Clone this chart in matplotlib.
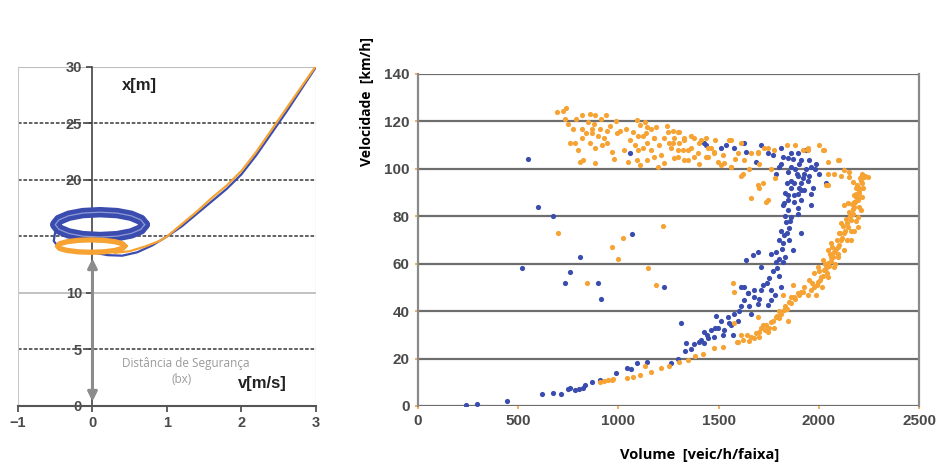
import matplotlib
matplotlib.use("Agg")
import matplotlib.pyplot as plt

# --- left panel: x [m] versus v [m/s] ---
blue_curve_v = [-0.50, -0.52, -0.45, -0.25, 0.0, 0.2, 0.4, 0.6, 0.8, 1.0, 1.2, 1.4, 1.6,
                1.8, 2.0, 2.2, 2.4, 2.6, 2.8, 3.0]
blue_curve_x = [15.4, 14.6, 14.0, 13.75, 13.6, 13.35, 13.3, 13.6, 14.2, 15.0, 15.9, 17.0,
                18.1, 19.2, 20.5, 22.2, 24.1, 26.0, 28.0, 30.0]

orange_curve_v = [0.3, 0.5, 0.7, 0.9, 1.0, 1.2, 1.4, 1.6, 1.8, 2.0, 2.2, 2.4, 2.6, 2.8, 3.0]
orange_curve_x = [13.55, 13.7, 14.1, 14.6, 15.0, 16.1, 17.2, 18.4, 19.5, 20.8, 22.5, 24.4,
                  26.3, 28.2, 30.1]

blue_loop_v = [0.70, 0.65, 0.52, 0.33, 0.10, -0.13, -0.32, -0.45, -0.50, -0.45, -0.32,
               -0.13, 0.10, 0.33, 0.52, 0.65, 0.70]
blue_loop_x = [16.05, 16.47, 16.83, 17.07, 17.15, 17.07, 16.83, 16.47, 16.05, 15.63, 15.27,
               15.03, 14.95, 15.03, 15.27, 15.63, 16.05]

orange_loop_v = [0.43, 0.40, 0.30, 0.15, -0.02, -0.19, -0.34, -0.44, -0.47, -0.44, -0.34,
                 -0.19, -0.02, 0.15, 0.30, 0.40, 0.43]
orange_loop_x = [14.15, 14.36, 14.54, 14.66, 14.70, 14.66, 14.54, 14.36, 14.15, 13.94, 13.76,
                 13.64, 13.60, 13.64, 13.76, 13.94, 14.15]

safety_gap = 13.3

# --- right panel: (volume, speed) observations ---
blue_points = [
    # scattered low-volume readings
    (550, 104), (600, 84), (675, 80), (1060, 106.5), (1070, 72.4), (810, 63), (520, 58),
    (760, 56.6), (735, 52), (900, 52), (915, 45),
    # congested branch
    (240, 0.3), (295, 0.8), (445, 2), (620, 5), (675, 5.5), (715, 5), (750, 7), (760, 7.5),
    (785, 6.7), (805, 7), (825, 7.5), (835, 9), (870, 10), (910, 11), (990, 14),
    (1045, 16), (1065, 15.5), (1095, 18), (1145, 18.5), (1260, 18), (1295, 20), (1310, 35),
    (1225, 50), (1335, 26.5), (1375, 26), (1410, 28), (1425, 31), (1460, 32), (1475, 29),
    (1495, 33), (1510, 36), (1525, 32), (1545, 37.5), (1560, 34), (1575, 39), (1595, 36),
    (1610, 42), (1625, 44.6), (1645, 47.5), (1660, 39), (1675, 46), (1695, 43), (1710, 49),
    (1745, 42.5), (1760, 44.6), (1625, 50), (1485, 38), (1445, 28.6), (1425, 26.5),
    (1570, 30), (1780, 47), (1700, 45), (1650, 42), (1600, 40), (1550, 35), (1520, 30),
    (1480, 33), (1440, 30), (1400, 27), (1360, 24), (1330, 23),
    # near-capacity column
    (1820, 84.6), (1845, 82.5), (1860, 79.6), (1835, 77.5), (1850, 75), (1810, 74),
    (1825, 72), (1800, 70), (1820, 68.6), (1785, 65), (1760, 64), (1695, 65), (1670, 63.6),
    (1635, 61.5), (1710, 58.5), (1785, 60.6), (1820, 60.6), (1870, 65.7), (1910, 73),
    (1960, 84.6), (1875, 88.8), (1910, 91), (1800, 55), (1750, 54), (1810, 50), (1760, 49),
    (1610, 50), (1645, 47.5), (1675, 49), (1845, 86.7), (1895, 81),
    (1830, 80), (1855, 78), (1840, 73), (1815, 66), (1800, 62), (1790, 58), (1770, 57),
    (1740, 52), (1720, 51), (1850, 70), (1830, 63),
    # free-flow top
    (1425, 110.7), (1535, 110), (1625, 110.7), (1635, 107), (1685, 103), (1770, 105.7),
    (1810, 108.6), (1820, 105), (1810, 102), (1845, 104.4), (1860, 106.5), (1895, 106.5),
    (1910, 103.6), (1935, 107.8), (1950, 103.6), (1960, 100.6), (1985, 102), (2000, 98),
    (1860, 100.6), (1845, 98.5), (1895, 97), (1925, 98), (1945, 95), (1910, 94), (1875, 94),
    (1860, 92), (1895, 89.6), (1845, 88.8), (1925, 91), (1970, 92), (1825, 85.5),
    (1875, 86), (1910, 86.7), (1895, 83.4), (2035, 94), (1960, 89.6), (1800, 100.6),
    (1785, 98), (1710, 110), (1745, 106.5), (1575, 109), (1435, 110), (1510, 108.6),
    (1935, 100), (1830, 90), (1860, 95), (1880, 100), (1900, 102), (1920, 96), (1840, 94),
    (1870, 104), (1890, 98), (1950, 97), (1980, 100), (1900, 92),
]

orange_points = [
    # free-flow cloud, left part
    (695, 123.8), (725, 124.6), (740, 125.5), (735, 121), (820, 122.5), (860, 123.3),
    (885, 122.5), (915, 121), (940, 122.5), (775, 117), (820, 117), (850, 119.6), (870, 117),
    (910, 117), (945, 116), (870, 115), (900, 114), (1010, 116), (995, 115), (760, 111),
    (785, 111), (820, 112.8), (860, 110.7), (885, 109), (920, 110), (945, 110.7), (970, 107),
    (825, 103.6), (810, 102.7), (885, 102.3),
    (1095, 120.4), (1110, 118.3), (1135, 119.6), (1160, 117), (1185, 117.5), (1075, 115.4),
    (1100, 114), (1125, 114), (1145, 111), (1175, 112.8), (1200, 110), (1085, 110),
    (1100, 107.8), (1125, 108.6), (1160, 107.8), (1175, 104.8), (1095, 103.6),
    (1110, 101.5), (1145, 103.6), (1195, 100.6), (1225, 113), (1250, 111), (1275, 112.8),
    (1300, 110.7), (1325, 112.8), (1260, 108.6), (1295, 107.8), (1345, 107.8),
    (1275, 104.4), (1325, 103.6), (1375, 104.8), (1245, 115.4), (1295, 115.4),
    (1225, 102.3),
    (1145, 117.5), (1175, 113), (1270, 116), (1300, 115.4), (1270, 111), (1325, 112),
    (1360, 109), (1295, 105), (1345, 103.6), (1410, 112), (1445, 109), (1475, 106.5),
    (1435, 105), (1510, 101.5), (1550, 112), (1560, 100.6), (1610, 97),
    (750, 119), (790, 121), (800, 108), (840, 115), (880, 119), (930, 113), (960, 118),
    (990, 120), (1040, 117), (1060, 112), (1030, 108), (980, 104), (1050, 103),
    (1140, 115), (1210, 106), (1240, 118), (1320, 108), (1360, 114), (1400, 102),
    # free-flow cloud, right part
    (1375, 112.8), (1400, 110.7), (1435, 112.8), (1460, 109), (1395, 106.5), (1445, 104.8),
    (1495, 102.7), (1525, 102.3), (1475, 107), (1560, 112), (1595, 106.5), (1610, 110.7),
    (1625, 103.6), (1560, 100.6), (1660, 106.5), (1695, 107), (1725, 109), (1620, 98),
    (1695, 106.5), (1745, 108.6), (1775, 107.8), (1945, 107.8), (2020, 107.8),
    (2025, 107.8), (2045, 102.7), (2095, 103.6), (2075, 98), (2125, 99.4), (2150, 96.4),
    (2170, 94.3), (2045, 93), (1945, 109), (2000, 110), (2100, 103.6), (2045, 98),
    (2110, 97), (2150, 98.5), (2210, 96.4), (2245, 96.4), (2200, 92), (2185, 89.6),
    (1720, 94), (1700, 92), (1660, 87.6), (1745, 86.7), (1695, 93), (1735, 86),
    (2035, 93), (2125, 84.6), (2195, 75.4),
    (1480, 112), (1520, 106), (1580, 104), (1650, 100), (1700, 102), (1760, 100),
    (1780, 96), (1840, 110), (1880, 110), (1920, 108),
    # capacity column
    (2225, 96.4), (2210, 95), (2220, 92), (2200, 90), (2195, 87.6), (2175, 86),
    (2195, 86.7), (2175, 83.8), (2170, 81), (2160, 78.3), (2145, 75.4), (2125, 72.8),
    (2110, 70), (2095, 67), (2075, 65), (2060, 62.7), (2045, 60.2), (2025, 57.3),
    (2010, 54.3), (1995, 52.2), (1975, 50), (1960, 49), (1945, 46.7), (2145, 85.5),
    (2110, 77), (2100, 72.8), (2060, 68.6), (2045, 65.7), (2020, 61.5), (1995, 58.5),
    (1975, 56), (1950, 53), (1925, 50), (1910, 48), (2195, 79.6), (2210, 82.5),
    (2175, 74), (2160, 70), (2125, 65.7), (2095, 62.7), (2075, 58.5), (2045, 54.3),
    (1990, 51), (2005, 53), (2020, 55), (2000, 57), (2035, 58), (2050, 59), (2030, 60),
    (2060, 61), (2055, 64), (2070, 63), (2085, 66), (2065, 67), (2100, 68), (2090, 70),
    (2115, 71), (2105, 73), (2130, 74), (2120, 76), (2140, 77), (2135, 79), (2155, 80),
    (2150, 82), (2170, 83), (2165, 85), (2180, 86), (2185, 88), (2175, 89), (2200, 91),
    (2190, 93), (2215, 94), (2205, 96), (2230, 97), (2215, 98), (1985, 47), (1965, 52),
    (2015, 50), (2040, 56), (2080, 60), (2095, 64), (2140, 70), (2160, 74), (2185, 78),
    (2200, 84), (2215, 88), (2185, 92),
    # congested branch
    (1575, 48), (1820, 46.7), (1875, 46), (1860, 43.4), (1825, 40.4), (1785, 37.5),
    (1760, 35.4), (1735, 34), (1710, 32.8), (1685, 30.7), (1660, 29), (1675, 28.6),
    (1810, 39), (1845, 36), (1775, 33), (1745, 31), (1590, 27), (1475, 24.4), (1345, 19.4),
    (1210, 16), (1160, 14.3), (1110, 13), (1075, 12.2), (1045, 11.8), (975, 11.4),
    (1695, 37.5), (1575, 35), (1895, 47.6), (1870, 51), (1570, 52), (1610, 30),
    (1595, 27), (1135, 17), (907, 10), (930, 10.5), (950, 11), (970, 11),
    (1620, 28), (1640, 30), (1700, 31), (1720, 34), (1750, 33), (1770, 36), (1790, 38),
    (1800, 40), (1830, 42), (1850, 44), (1880, 45), (1900, 47), (1920, 48), (1700, 29),
    (1650, 27.5), (1800, 37), (1840, 41), (1860, 46), (1730, 32),
    (1250, 17), (1300, 18.5), (1380, 21), (1420, 22), (1520, 25),
    # scattered low-volume readings
    (700, 72.8), (1025, 70.7), (970, 67), (1000, 62), (845, 52), (1220, 76), (1185, 51),
    (1150, 58),
]

blue_volume = [p[0] for p in blue_points]
blue_speed = [p[1] for p in blue_points]
orange_volume = [p[0] for p in orange_points]
orange_speed = [p[1] for p in orange_points]

BLUE = "#3a4cae"
ORANGE = "#f6a334"
GRID = "#6e6e6e"
TICK = "#4a4a4a"

plt.rcParams["font.family"] = ["Liberation Sans", "DejaVu Sans"]

fig = plt.figure(figsize=(9.46, 4.68), dpi=100)

# left panel
ax1 = fig.add_axes([0.019, 0.1325, 0.315, 0.7244])
ax1.set_xlim(-1, 3)
ax1.set_ylim(0, 30)
for y in [5, 15, 20, 25]:
    ax1.axhline(y, color="#555555", lw=1.3, ls=(0, (2, 1)), zorder=1)
ax1.axhline(10, color="#b8b8b8", lw=1.2, zorder=1)
ax1.axvline(-1, color="#c8c8c8", lw=1.5, zorder=1)
ax1.axvline(3, color="#dddddd", lw=1.0, zorder=1)

ax1.plot(blue_loop_v, blue_loop_x, color=BLUE, lw=7.5, solid_capstyle="round",
         solid_joinstyle="round", zorder=3)
ax1.plot(blue_loop_v, blue_loop_x, color="#8e9ad6", lw=0.9, zorder=3)
ax1.plot(blue_curve_v, blue_curve_x, color=BLUE, lw=1.6, zorder=3)
ax1.plot(orange_loop_v, orange_loop_x, color=ORANGE, lw=3.8, solid_joinstyle="round",
         zorder=4)
ax1.plot(orange_curve_v, orange_curve_x, color=ORANGE, lw=1.6, zorder=4)

ax1.annotate("", xy=(0, 0.15), xytext=(0, safety_gap),
             arrowprops=dict(arrowstyle="<|-|>", color="#8c8c8c", lw=2.2,
                             mutation_scale=14), zorder=5)

for side in ["top", "right"]:
    ax1.spines[side].set_visible(False)
ax1.axhline(30, color="#bdbdbd", lw=1.5, zorder=1)
ax1.spines["left"].set_position(("data", 0))
ax1.spines["left"].set_color("#444444")
ax1.spines["left"].set_linewidth(1.2)
ax1.spines["bottom"].set_color("#555555")
ax1.spines["bottom"].set_linewidth(1.5)
ax1.set_xticks([-1, 0, 1, 2, 3])
ax1.set_yticks([0, 5, 10, 15, 20, 25, 30])
ax1.tick_params(axis="both", colors="#444444", length=4, width=1.2, labelsize=10.5)
for lab in ax1.get_xticklabels() + ax1.get_yticklabels():
    lab.set_fontweight("bold")
    lab.set_color(TICK)

ax1.text(0.4, 28.4, "x[m]", fontsize=12, fontweight="bold", color="#222222", va="center")
ax1.text(1.95, 2.0, "v[m/s]", fontsize=12, fontweight="bold", color="#222222", va="center")
ax1.text(1.25, 3.8, "Distância de Segurança", family=["Open Sans", "DejaVu Sans"],
         fontsize=8.5, color="#9a9a9a", ha="center", va="center")
ax1.text(1.2, 2.3, "(bx)", family=["Open Sans", "DejaVu Sans"],
         fontsize=8.5, color="#9a9a9a", ha="center", va="center")

# right panel
ax2 = fig.add_axes([0.4419, 0.1325, 0.5296, 0.7094])
ax2.set_xlim(0, 2500)
ax2.set_ylim(0, 140)
for y in range(20, 141, 20):
    ax2.axhline(y, color=GRID, lw=1.6, zorder=1)
ax2.axhline(0, color=GRID, lw=1.6, zorder=1)

ax2.scatter(blue_volume, blue_speed, s=14, color=BLUE, linewidths=0, zorder=3)
ax2.scatter(orange_volume, orange_speed, s=14, color=ORANGE, linewidths=0, zorder=3)

ax2.spines["top"].set_visible(False)
ax2.spines["bottom"].set_visible(False)
ax2.spines["left"].set_color("#8a8a8a")
ax2.spines["right"].set_color("#8a8a8a")
ax2.spines["left"].set_linewidth(1.6)
ax2.spines["right"].set_linewidth(1.6)
ax2.set_xticks(range(0, 2501, 500))
ax2.set_yticks(range(0, 141, 20))
ax2.tick_params(axis="both", colors=ORANGE, length=2, width=1.2, labelsize=11, pad=4)
for lab in ax2.get_xticklabels() + ax2.get_yticklabels():
    lab.set_fontweight("bold")
    lab.set_color(TICK)

fig.text(367 / 946, 1 - 102 / 468, "Velocidade  [km/h]", rotation=90, fontsize=10,
         fontweight="bold", family=["Open Sans", "DejaVu Sans"], ha="center", va="center")
fig.text(700 / 946, 1 - 455 / 468, "Volume  [veic/h/faixa]", fontsize=10.5,
         fontweight="bold", family=["Open Sans", "DejaVu Sans"], ha="center", va="center")

fig.savefig("out.png", dpi=100)
